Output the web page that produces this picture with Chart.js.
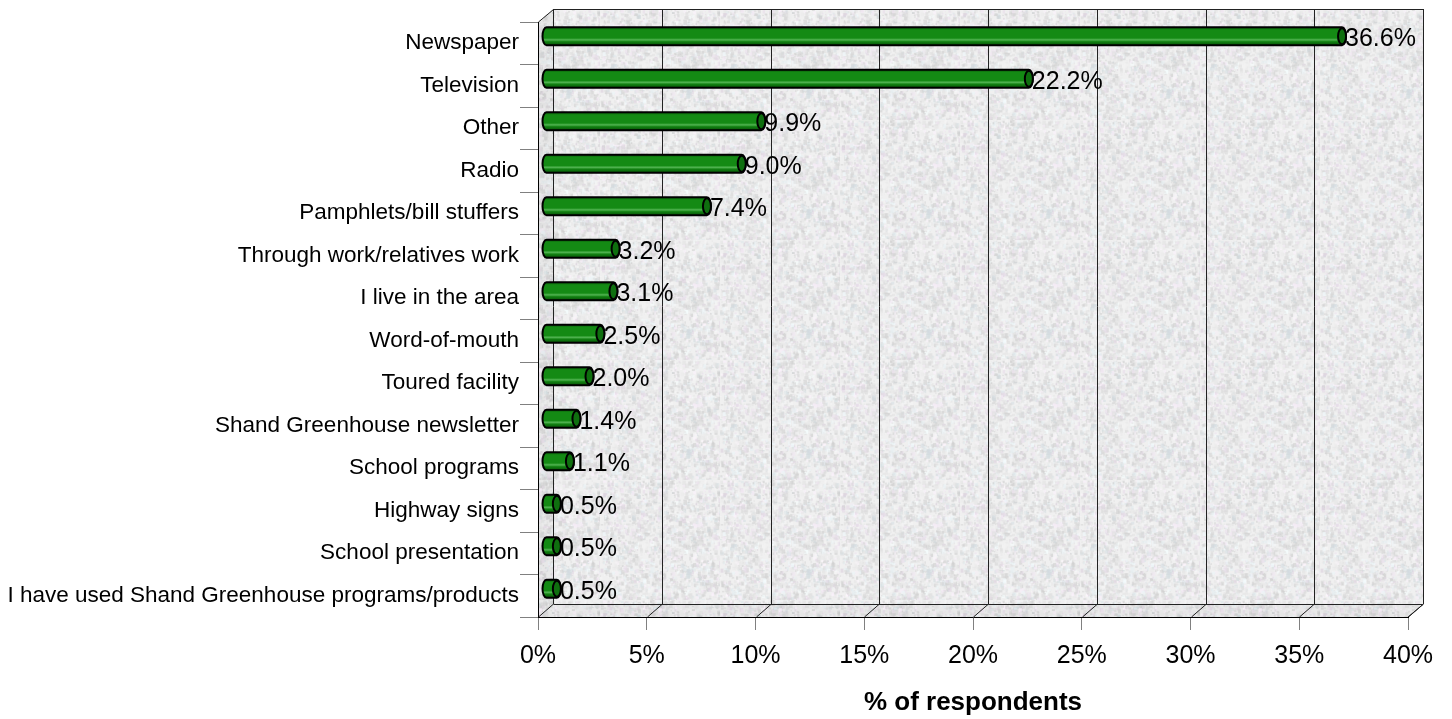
<!DOCTYPE html>
<html>
<head>
<meta charset="utf-8">
<script src="https://cdn.jsdelivr.net/npm/chart.js@4.4.1/dist/chart.umd.min.js"></script>
<style>
  html, body { margin: 0; padding: 0; background: #fff; }
  canvas { display: block; }
</style>
</head>
<body>
<canvas id="chart" width="1452" height="719"></canvas>
<script>
const categories = [
  'Newspaper',
  'Television',
  'Other',
  'Radio',
  'Pamphlets/bill stuffers',
  'Through work/relatives work',
  'I live in the area',
  'Word-of-mouth',
  'Toured facility',
  'Shand Greenhouse newsletter',
  'School programs',
  'Highway signs',
  'School presentation',
  'I have used Shand Greenhouse programs/products'
];
const percentages = [36.6, 22.2, 9.9, 9.0, 7.4, 3.2, 3.1, 2.5, 2.0, 1.4, 1.1, 0.5, 0.5, 0.5];
const axisMin = 0;
const axisMax = 40;
const axisStep = 5;
const axisTitle = '% of respondents';

const DEPTH_X = 15, DEPTH_Y = 13;
const FONT = 'Arial, "Liberation Sans", sans-serif';

// speckled grey texture for the walls (decoration only)
function makeTexture(base, shade) {
  const c = document.createElement('canvas');
  c.width = 120; c.height = 120;
  const g = c.getContext('2d');
  g.fillStyle = base;
  g.fillRect(0, 0, 120, 120);
  let s = 7;
  const next = () => { s = (s * 16807) % 2147483647; return s / 2147483647; };
  for (let i = 0; i < 3000; i++) {
    const x = next() * 120, y = next() * 120, w = 1 + next() * 3;
    const v = Math.round(shade - next() * 45);
    const tint = next();
    let r = v, gg = v, b = v;
    if (tint < 0.15) { r += 12; b += 14; }
    else if (tint < 0.3) { gg += 10; b += 14; }
    g.fillStyle = `rgba(${r},${gg},${b},0.55)`;
    g.fillRect(x, y, w, w * (0.6 + next()));
  }
  return c;
}

const walls = {
  id: 'walls',
  beforeDraw(chart) {
    const { ctx, chartArea: a, scales } = chart;
    const back = ctx.createPattern(makeTexture('#f0f0f0', 248), 'repeat');
    const side = ctx.createPattern(makeTexture('#e8e8e8', 240), 'repeat');
    ctx.save();
    // back wall
    ctx.fillStyle = back;
    ctx.fillRect(a.left + DEPTH_X, a.top - DEPTH_Y, a.right - a.left, a.bottom - a.top);
    // left wall
    ctx.fillStyle = side;
    ctx.beginPath();
    ctx.moveTo(a.left, a.top);
    ctx.lineTo(a.left + DEPTH_X, a.top - DEPTH_Y);
    ctx.lineTo(a.left + DEPTH_X, a.bottom - DEPTH_Y);
    ctx.lineTo(a.left, a.bottom);
    ctx.closePath();
    ctx.fill();
    // floor
    ctx.beginPath();
    ctx.moveTo(a.left, a.bottom);
    ctx.lineTo(a.left + DEPTH_X, a.bottom - DEPTH_Y);
    ctx.lineTo(a.right + DEPTH_X, a.bottom - DEPTH_Y);
    ctx.lineTo(a.right, a.bottom);
    ctx.closePath();
    ctx.fill();

    // grid lines on back wall and floor
    ctx.strokeStyle = '#222';
    ctx.lineWidth = 1;
    const x = scales.x;
    for (let v = axisMin; v <= axisMax; v += axisStep) {
      const px = Math.round(x.getPixelForValue(v)) + 0.5;
      ctx.beginPath();
      ctx.moveTo(px + DEPTH_X, a.top - DEPTH_Y);
      ctx.lineTo(px + DEPTH_X, a.bottom - DEPTH_Y);
      ctx.lineTo(px, a.bottom);
      ctx.stroke();
    }
    // outline of the box
    ctx.beginPath();
    ctx.moveTo(a.left + 0.5, a.top);
    ctx.lineTo(a.left + DEPTH_X + 0.5, a.top - DEPTH_Y + 0.5);
    ctx.lineTo(a.right + DEPTH_X + 0.5, a.top - DEPTH_Y + 0.5);
    ctx.lineTo(a.right + DEPTH_X + 0.5, a.bottom - DEPTH_Y);
    ctx.lineTo(a.right, a.bottom);
    ctx.moveTo(a.left + DEPTH_X + 0.5, a.bottom - DEPTH_Y + 0.5);
    ctx.lineTo(a.right + DEPTH_X, a.bottom - DEPTH_Y + 0.5);
    ctx.stroke();
    ctx.restore();
  }
};

const cylinders = {
  id: 'cylinders',
  afterDatasetsDraw(chart) {
    const ctx = chart.ctx;
    const meta = chart.getDatasetMeta(0);
    const dx = Math.round(DEPTH_X / 2), dy = -Math.round(DEPTH_Y / 2);
    ctx.save();
    meta.data.forEach((bar, i) => {
      const x0 = bar.base + dx, x1 = bar.x + dx, cy = bar.y + dy;
      const r = bar.height / 2, rx = 4;
      const grad = ctx.createLinearGradient(0, cy - r, 0, cy + r);
      grad.addColorStop(0, '#0a5a0a');
      grad.addColorStop(0.15, '#148a14');
      grad.addColorStop(0.6, '#148a14');
      grad.addColorStop(0.7, '#52b452');
      grad.addColorStop(0.8, '#128212');
      grad.addColorStop(1, '#075007');
      ctx.beginPath();
      ctx.moveTo(x0, cy - r);
      ctx.lineTo(x1, cy - r);
      ctx.ellipse(x1, cy, rx, r, 0, -Math.PI / 2, Math.PI / 2);
      ctx.lineTo(x0, cy + r);
      ctx.ellipse(x0, cy, rx, r, 0, Math.PI / 2, Math.PI * 1.5);
      ctx.closePath();
      ctx.fillStyle = grad;
      ctx.fill();
      ctx.lineWidth = 2;
      ctx.strokeStyle = '#000';
      ctx.stroke();
      // end cap
      ctx.beginPath();
      ctx.ellipse(x1, cy, rx, r - 1, 0, 0, Math.PI * 2);
      ctx.fillStyle = '#0f6f0f';
      ctx.fill();
      ctx.stroke();
      // value label
      ctx.fillStyle = '#000';
      ctx.font = '25px ' + FONT;
      ctx.textAlign = 'left';
      ctx.textBaseline = 'middle';
      ctx.fillText(percentages[i].toFixed(1) + '%', x1 + rx - 1, cy + 3);
    });
    ctx.restore();
  }
};

new Chart(document.getElementById('chart'), {
  type: 'bar',
  data: {
    labels: categories,
    datasets: [{
      data: percentages,
      backgroundColor: 'rgba(0,0,0,0)',
      borderWidth: 0,
      barThickness: 18
    }]
  },
  options: {
    indexAxis: 'y',
    responsive: false,
    animation: false,
    layout: { padding: { left: 0, right: 44, top: 22, bottom: 0 } },
    plugins: { legend: { display: false }, tooltip: { enabled: false } },
    scales: {
      x: {
        min: axisMin,
        max: axisMax,
        afterFit: s => { s.height = 102; },
        ticks: {
          stepSize: axisStep,
          callback: v => v + '%',
          color: '#000',
          font: { size: 25, family: FONT },
          padding: 11,
          maxRotation: 0
        },
        grid: { drawOnChartArea: false, tickLength: 13, color: '#808080' },
        border: { color: '#000' },
        title: {
          display: true,
          text: axisTitle,
          color: '#000',
          font: { size: 26, weight: 'bold', family: FONT },
          padding: { top: 0, bottom: 1 }
        }
      },
      y: {
        afterFit: s => { s.width = 538; },
        ticks: {
          color: '#000',
          font: { size: 22.5, family: FONT },
          padding: 1
        },
        grid: { drawOnChartArea: false, tickLength: 18, color: '#808080', offset: true },
        border: { color: '#000' }
      }
    }
  },
  plugins: [walls, cylinders]
});
</script>
</body>
</html>
